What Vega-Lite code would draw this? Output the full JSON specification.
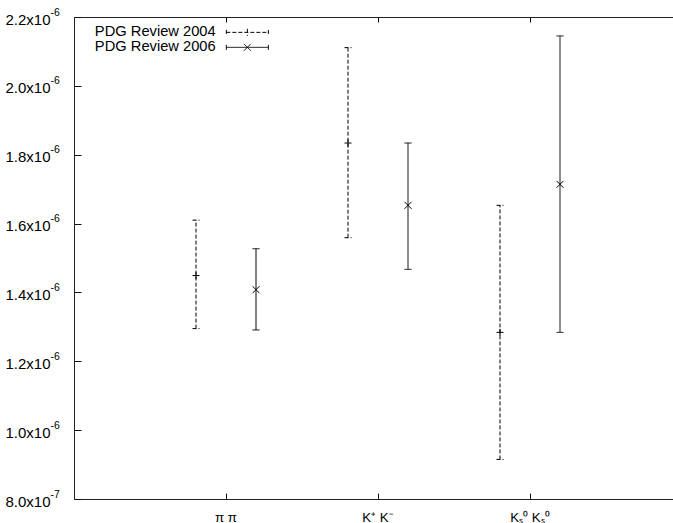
{
  "$schema": "https://vega.github.io/schema/vega-lite/v6.json",
  "width": 599,
  "height": 482,
  "autosize": {"type": "none"},
  "padding": {"left": 74, "top": 17, "right": 0, "bottom": 24},
  "background": "white",
  "config": {
    "font": "Liberation Sans",
    "view": {"stroke": null},
    "axis": {"grid": false, "domain": true, "domainColor": "#222", "domainWidth": 1, "labelFont": "Liberation Sans", "labelFontSize": 13.3, "labelColor": "#000", "tickColor": "#111", "tickWidth": 1},
    "legend": {
      "orient": "none", "legendX": 166, "legendY": 8, "padding": 0,
      "labelFont": "Liberation Sans", "labelFontSize": 14.7, "labelColor": "#000",
      "labelAlign": "right", "labelOffset": -39,
      "symbolStrokeColor": "#000", "symbolStrokeWidth": 1, "symbolOpacity": 1, "symbolSize": 49, "symbolFillColor": "transparent",
      "rowPadding": -1
    }
  },
  "data": {"values": [
    {"decay": "π π", "series": "PDG Review 2004", "value": 1.449e-6, "lo": 1.295e-6, "hi": 1.610e-6},
    {"decay": "π π", "series": "PDG Review 2006", "value": 1.408e-6, "lo": 1.291e-6, "hi": 1.527e-6},
    {"decay": "K⁺ K⁻", "series": "PDG Review 2004", "value": 1.834e-6, "lo": 1.559e-6, "hi": 2.111e-6},
    {"decay": "K⁺ K⁻", "series": "PDG Review 2006", "value": 1.653e-6, "lo": 1.467e-6, "hi": 1.834e-6},
    {"decay": "Kₛ⁰ Kₛ⁰", "series": "PDG Review 2004", "value": 1.284e-6, "lo": 0.915e-6, "hi": 1.653e-6},
    {"decay": "Kₛ⁰ Kₛ⁰", "series": "PDG Review 2006", "value": 1.714e-6, "lo": 1.284e-6, "hi": 2.145e-6}
  ]},
  "layer": [
    {
      "mark": {"type": "rule", "color": "#000", "strokeWidth": 1},
      "encoding": {
        "x": {"field": "decay", "type": "nominal", "scale": {"type": "band", "domain": ["π π", "K⁺ K⁻", "Kₛ⁰ Kₛ⁰"], "paddingInner": 0, "paddingOuter": 0.4704, "align": 0.5315},
              "axis": {"orient": "bottom", "title": null, "labelAngle": 0, "ticks": true, "tickSize": -6, "labelPadding": 17, "labelFontSize": 13.3}},
        "xOffset": {"field": "series", "type": "nominal", "scale": {"domain": ["PDG Review 2004", "PDG Review 2006"], "paddingInner": 0, "paddingOuter": 0.2667}},
        "y": {"field": "lo", "type": "quantitative", "scale": {"domain": [8e-7, 2.2e-6], "nice": false, "zero": false},
              "axis": {"orient": "left", "title": null, "values": [8e-7, 1e-6, 1.2e-6, 1.4e-6, 1.6e-6, 1.8e-6, 2e-6, 2.2e-6], "ticks": true, "tickSize": -7, "labelPadding": 31, "labelOffset": 2, "labelBaseline": "middle", "labelFontSize": 15, "labelAlign": "right",
                       "labelExpr": "datum.value < 9e-7 ? format(datum.value * 1e7, '.1f') + 'x10' : format(datum.value * 1e6, '.1f') + 'x10'"}},
        "y2": {"field": "hi"},
        "strokeDash": {"field": "series", "type": "nominal", "title": null, "scale": {"domain": ["PDG Review 2004", "PDG Review 2006"], "range": [[4, 2], [1, 0]]}}
      }
    },
    {
      "mark": {"type": "point", "shape": "M-1,0H1", "size": 49, "filled": false, "color": "#000", "strokeWidth": 1, "opacity": 1},
      "encoding": {
        "x": {"field": "decay", "type": "nominal", "axis": null},
        "xOffset": {"field": "series", "type": "nominal"},
        "y": {"field": "lo", "type": "quantitative", "axis": null},
        "strokeDash": {"field": "series", "type": "nominal", "title": null}
      }
    },
    {
      "mark": {"type": "point", "shape": "M-1,0H1", "size": 49, "filled": false, "color": "#000", "strokeWidth": 1, "opacity": 1},
      "encoding": {
        "x": {"field": "decay", "type": "nominal", "axis": null},
        "xOffset": {"field": "series", "type": "nominal"},
        "y": {"field": "hi", "type": "quantitative", "axis": null},
        "strokeDash": {"field": "series", "type": "nominal", "title": null}
      }
    },
    {
      "transform": [{"filter": "datum.series == 'PDG Review 2004'"}],
      "mark": {"type": "point", "shape": "M-1,0H1M0,-1V1", "size": 49, "filled": false, "color": "#000", "strokeWidth": 1, "opacity": 1},
      "encoding": {
        "x": {"field": "decay", "type": "nominal", "axis": null},
        "xOffset": {"field": "series", "type": "nominal"},
        "y": {"field": "value", "type": "quantitative", "axis": null}
      }
    },
    {
      "transform": [{"filter": "datum.series == 'PDG Review 2006'"}],
      "mark": {"type": "point", "shape": "M-1,-1L1,1M1,-1L-1,1", "size": 49, "filled": false, "color": "#000", "strokeWidth": 1, "opacity": 1},
      "encoding": {
        "x": {"field": "decay", "type": "nominal", "axis": null},
        "xOffset": {"field": "series", "type": "nominal"},
        "y": {"field": "value", "type": "quantitative", "axis": null}
      }
    },
    {
      "mark": {"type": "point", "size": 49, "filled": false, "color": "#000", "strokeWidth": 1, "opacity": 0},
      "encoding": {
        "x": {"field": "decay", "type": "nominal",
              "axis": {"orient": "top", "title": null, "labels": false, "ticks": true, "tickSize": -5, "tickColor": "#000"}},
        "xOffset": {"field": "series", "type": "nominal"},
        "y": {"field": "value", "type": "quantitative",
              "axis": {"orient": "left", "title": null, "values": [8e-7, 1e-6, 1.2e-6, 1.4e-6, 1.6e-6, 1.8e-6, 2e-6, 2.2e-6], "ticks": false, "domain": false, "labelPadding": 24, "labelOffset": -5, "labelAlign": "left", "labelBaseline": "middle", "labelFontSize": 10.5,
                       "labelExpr": "datum.value < 9e-7 ? '-7' : '-6'"}},
        "shape": {"field": "series", "type": "nominal", "title": null, "scale": {"domain": ["PDG Review 2004", "PDG Review 2006"],
                  "range": ["M-6,-0.7V0.7M-6,0H6M6,-0.7V0.7M0,-1V1", "M-6,-0.7V0.7M-6,0H6M6,-0.7V0.7M-1,-1L1,1M1,-1L-1,1"]}},
        "strokeDash": {"field": "series", "type": "nominal", "title": null}
      }
    }
  ],
  "resolve": {"axis": {"x": "independent", "y": "independent"}}
}
